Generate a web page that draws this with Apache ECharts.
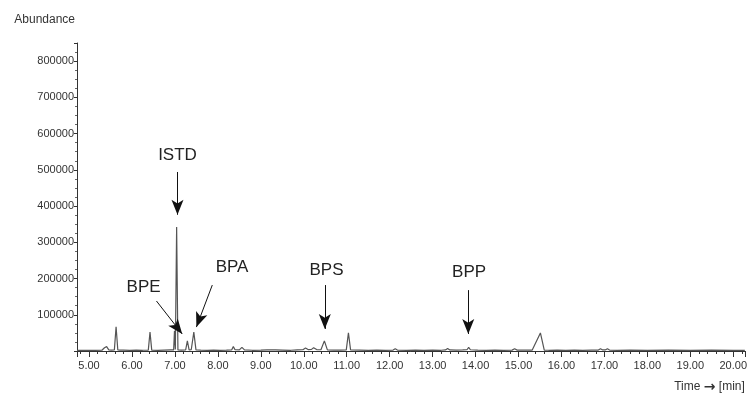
<!DOCTYPE html>
<html>
<head>
<meta charset="utf-8">
<script src="https://cdn.jsdelivr.net/npm/echarts@6/dist/echarts.min.js"></script>
<style>
  html, body { margin: 0; padding: 0; background: #fff; }
  #chart { width: 750px; height: 394px; }
</style>
</head>
<body>
<div id="chart"></div>
<script>
// retention time (min) and abundance
const times = [
  4.72, 4.85, 5.00, 5.15, 5.30, 5.36, 5.41, 5.46, 5.52, 5.59, 5.63, 5.67, 5.72, 5.76, 5.80,
  5.95, 6.10, 6.25, 6.38, 6.42, 6.46, 6.60, 6.75, 6.90, 6.97, 6.99, 7.01, 7.04, 7.07,
  7.15, 7.25, 7.29, 7.33, 7.38, 7.44, 7.49, 7.60, 7.75, 7.90, 8.05, 8.20, 8.32, 8.36, 8.40,
  8.50, 8.56, 8.62, 8.80, 9.00, 9.15, 9.26, 9.30, 9.34, 9.50, 9.70, 9.85, 9.98, 10.04, 10.10,
  10.18, 10.23, 10.30, 10.40, 10.48, 10.55, 10.70, 10.85, 10.99, 11.04, 11.09, 11.30, 11.50,
  11.70, 11.90, 12.08, 12.13, 12.18, 12.40, 12.60, 12.80, 13.00, 13.20, 13.30, 13.35, 13.40,
  13.55, 13.70, 13.80, 13.84, 13.88, 14.05, 14.25, 14.45, 14.65, 14.85, 14.91, 14.97, 15.15,
  15.32, 15.51, 15.60, 15.70, 15.90, 16.10, 16.30, 16.50, 16.70, 16.86, 16.91, 16.96, 17.02,
  17.07, 17.12, 17.30, 17.60, 18.00, 18.50, 19.00, 19.50, 20.00, 20.27
];
const abundance = [
  1500, 1800, 1500, 2000, 2200, 9000, 12000, 3000, 2500, 3000, 67000, 3000, 2500, 7000, 2500,
  2000, 2500, 2000, 2500, 52000, 2500, 2000, 2500, 3000, 3000, 56000, 4000, 342000, 3000,
  2500, 3000, 28000, 3000, 3500, 52000, 3000, 2500, 2000, 2500, 2000, 2500, 3000, 12000, 3500,
  3000, 10000, 3000, 2000, 2500, 3000, 3000, 8000, 3000, 2500, 2000, 3000, 3500, 8000, 4000,
  4500, 9000, 4000, 3500, 28000, 3000, 2500, 2500, 3000, 50000, 3000, 2500, 2000,
  2500, 2000, 2500, 6000, 2500, 2000, 2500, 2000, 2500, 2000, 3000, 7000, 3000,
  2500, 3000, 3500, 10000, 3500, 2500, 2000, 2500, 2000, 2500, 6000, 2500, 2500,
  2500, 50000, 2500, 2000, 2500, 2000, 2500, 2000, 2500, 2500, 6000, 3000, 3000,
  6000, 2500, 2000, 2500, 2000, 2500, 2000, 2500, 2000, 2000
];

// annotations: label position and arrow (from -> to) in data units
const labels = ['ISTD', 'BPE', 'BPA', 'BPS', 'BPP'];
const labelPos = [[7.06, 539000], [6.27, 177000], [8.33, 232000], [10.53, 224000], [13.85, 218000]];
const arrowFrom = [[7.06, 494000], [6.57, 138000], [7.87, 182000], [10.49, 182000], [13.83, 168000]];
const arrowTo = [[7.06, 376000], [7.17, 47000], [7.50, 66000], [10.49, 61000], [13.83, 47000]];

const yTicks = [100000, 200000, 300000, 400000, 500000, 600000, 700000, 800000];

const font = 'Liberation Sans, Arial, sans-serif';
const chart = echarts.init(document.getElementById('chart'));

const option = {
  animation: false,
  grid: { left: 77, right: 2, top: 43, bottom: 43 },
  xAxis: {
    type: 'value',
    min: 4.72,
    max: 20.27,
    splitNumber: 16,
    minInterval: 1,
    maxInterval: 1,
    name: 'Time {a|\u2192} [min]',
    nameLocation: 'end',
    nameGap: 0,
    nameTextStyle: {
      color: '#333', fontSize: 12, fontFamily: font,
      align: 'right', verticalAlign: 'top', padding: [29, 0, 0, 0],
      rich: { a: { fontSize: 14, fontWeight: 'bold', fontFamily: 'DejaVu Sans', color: '#333' } }
    },
    axisLine: { lineStyle: { color: '#333', width: 1 } },
    axisTick: { length: 6, lineStyle: { color: '#333' } },
    minorTick: { show: true, splitNumber: 5, length: 3, lineStyle: { color: '#333' } },
    axisLabel: {
      color: '#333', fontSize: 11, fontFamily: font, margin: 9,
      showMinLabel: false, showMaxLabel: false,
      formatter: v => v.toFixed(2)
    },
    splitLine: { show: false }
  },
  yAxis: {
    type: 'value',
    min: 0,
    max: 850000,
    interval: 100000,
    name: 'Abundance',
    nameLocation: 'end',
    nameGap: 17,
    nameTextStyle: { color: '#333', fontSize: 12, fontFamily: font, align: 'right', padding: [0, 2, 0, 0] },
    axisLine: { show: true, lineStyle: { color: '#333', width: 1 } },
    axisTick: { show: true, length: 3, lineStyle: { color: '#333' } },
    minorTick: { show: true, splitNumber: 4, length: 2, lineStyle: { color: '#666' } },
    axisLabel: {
      color: '#333', fontSize: 11, fontFamily: font, margin: 3,
      formatter: v => (yTicks.indexOf(v) >= 0 ? String(v) : '')
    },
    splitLine: { show: false }
  },
  series: [
    {
      type: 'line',
      data: times.map((t, i) => [t, abundance[i]]),
      showSymbol: false,
      symbol: 'none',
      lineStyle: { color: '#555', width: 1.2 },
      markLine: {
        silent: true,
        symbol: ['none', 'arrow'],
        symbolSize: [9, 15],
        lineStyle: { color: '#111', width: 1, type: 'solid' },
        label: { show: false },
        data: labels.map((n, i) => [
          { coord: arrowFrom[i] },
          { coord: arrowTo[i] }
        ])
      },
      markPoint: {
        silent: true,
        symbol: 'circle',
        symbolSize: 0,
        label: {
          show: true, position: 'inside', color: '#222',
          fontSize: 17, fontFamily: font, formatter: '{b}'
        },
        data: labels.map((n, i) => ({ name: n, coord: labelPos[i] }))
      }
    }
  ]
};

option && chart.setOption(option);
</script>
</body>
</html>
